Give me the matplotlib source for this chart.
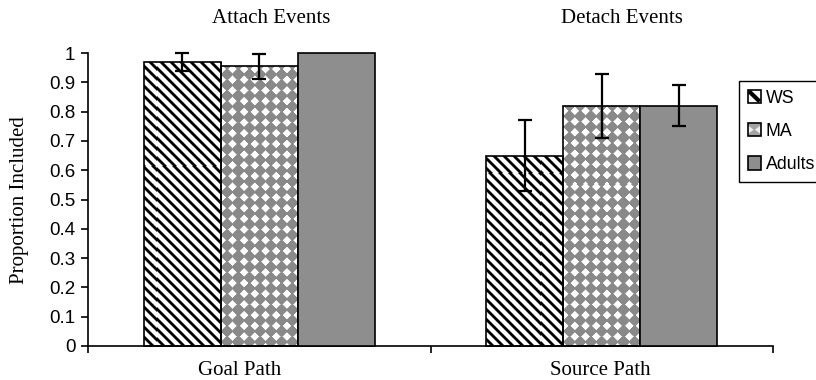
import numpy as np
import matplotlib
matplotlib.use("Agg")
import matplotlib.pyplot as plt
from matplotlib.patches import Rectangle, Polygon, Patch
from matplotlib.lines import Line2D
from matplotlib.legend_handler import HandlerBase

# ---- data -------------------------------------------------------------
categories = ["Goal Path", "Source Path"]
panel_titles = ["Attach Events", "Detach Events"]
groups = ["WS", "MA", "Adults"]

ws_values = [0.97, 0.65]
ws_errors = [0.03, 0.12]
ma_values = [0.955, 0.82]
ma_errors = [0.043, 0.11]
adult_values = [1.0, 0.82]
adult_errors = [0.0, 0.07]

y_ticks = [0, 0.1, 0.2, 0.3, 0.4, 0.5, 0.6, 0.7, 0.8, 0.9, 1.0]
y_tick_labels = ["0", "0.1", "0.2", "0.3", "0.4", "0.5", "0.6", "0.7", "0.8", "0.9", "1"]

# ---- style ------------------------------------------------------------
SANS = "Liberation Sans"
SERIF = "Liberation Serif"
GRAY = "#8e8e8e"
W, H, DPI = 816, 380, 100
AX_L, AX_B, AX_W, AX_H = 88, 34, 685, 293   # axes box in pixels

fig = plt.figure(figsize=(W / DPI, H / DPI), dpi=DPI)
ax = fig.add_axes([AX_L / W, AX_B / H, AX_W / W, AX_H / H])
xlim = (-0.5, 1.5)
ylim = (0.0, 1.0)

x = np.arange(len(categories))
bw = 0.225


def stripe_texture(rows, cols, period=10.0, ink=4.0):
    r, c = np.mgrid[0:rows, 0:cols] + 0.5
    d = np.mod(c - r, period)
    inside = np.where(d < ink, np.minimum(d, ink - d), -np.minimum(d - ink, period - d))
    cov = np.clip(inside + 0.5, 0, 1)
    v = 1.0 - cov
    return np.dstack([v, v, v])


def diamond_texture(rows, cols, period=10.7, radius=4.3, base=0.54):
    r, c = np.mgrid[0:rows, 0:cols] + 0.5
    u = np.mod(c, period) - period / 2
    w = np.mod(r, period) - period / 2
    cov = np.clip(radius - (np.abs(u) + np.abs(w)) + 0.5, 0, 1)
    v = base * (1 - cov) + cov
    return np.dstack([v, v, v])


stripes = stripe_texture(AX_H, AX_W)
diamonds = diamond_texture(AX_H, AX_W)


def textured_bars(xpos, values, texture):
    bars = ax.bar(xpos, values, bw, facecolor="none", edgecolor="black",
                  linewidth=1.2, zorder=3, clip_on=False)
    for b in bars:
        im = ax.imshow(texture, extent=(xlim[0], xlim[1], ylim[0], ylim[1]),
                       origin="upper", interpolation="nearest", aspect="auto", zorder=2)
        im.set_clip_path(b)
    return bars


textured_bars(x - bw, ws_values, stripes)
textured_bars(x, ma_values, diamonds)
ax.bar(x + bw, adult_values, bw, facecolor=GRAY, edgecolor="black",
       linewidth=1.2, zorder=3, clip_on=False)

for off, vals, errs in [(-bw, ws_values, ws_errors),
                        (0.0, ma_values, ma_errors),
                        (bw, adult_values, adult_errors)]:
    keep = [i for i, e in enumerate(errs) if e > 0]
    ax.errorbar(x[keep] + off, np.array(vals)[keep], yerr=np.array(errs)[keep],
                fmt="none", ecolor="black", elinewidth=1.6, capsize=4.8,
                capthick=1.6, zorder=4, clip_on=False)

ax.set_xlim(*xlim)
ax.set_ylim(*ylim)

# axes and ticks
for s in ["top", "right"]:
    ax.spines[s].set_visible(False)
for s in ["left", "bottom"]:
    ax.spines[s].set_linewidth(1.2)
    ax.spines[s].set_color("black")

# tick marks sit on the category boundaries; names are placed under each group
ax.set_xticks([-0.5, 0.5, 1.5])
ax.set_xticklabels([])
ax.tick_params(axis="x", which="major", length=5, width=1.2, direction="out")
for xi, name, dx in zip(x, categories, [-14.0, -0.7]):
    ax.annotate(name, xy=(xi, 0), xycoords=("data", "axes fraction"),
                xytext=(dx, -20.8), textcoords="offset points",
                ha="center", va="baseline", fontfamily=SERIF, fontsize=15,
                annotation_clip=False)

ax.set_yticks(y_ticks)
ax.set_yticklabels(y_tick_labels, fontfamily=SANS, fontsize=13.5)
ax.tick_params(axis="y", length=5, width=1.2, direction="out", pad=4)

fig.text(20 / W, 1 - 200 / H, "Proportion Included", rotation=90,
         ha="center", va="center", fontfamily=SERIF, fontsize=15)

for title, px in zip(panel_titles, [271.5, 621.5]):
    fig.text(px / W, 1 - 23 / H, title, ha="center", va="baseline",
             fontfamily=SERIF, fontsize=15)


# ---- legend -------------------------------------------------------------
class StripeKey(HandlerBase):
    def create_artists(self, legend, orig, xd, yd, w, h, fs, trans):
        x0, y0 = -xd, -yd
        sq = Rectangle((x0, y0), w, h, facecolor="white", edgecolor="black",
                       lw=1.2, transform=trans)
        ln = Line2D([x0 + 1, x0 + w - 1], [y0 + h - 1, y0 + 1], color="black",
                    lw=3, solid_capstyle="butt", transform=trans)
        return [sq, ln]


class DiamondKey(HandlerBase):
    def create_artists(self, legend, orig, xd, yd, w, h, fs, trans):
        x0, y0 = -xd, -yd
        sq = Rectangle((x0, y0), w, h, facecolor="#a4a4a4", edgecolor="none",
                       transform=trans)
        left = Polygon([(x0, y0 + 0.15 * h), (x0 + 0.45 * w, y0 + 0.5 * h),
                        (x0, y0 + 0.85 * h)], closed=True, facecolor="#f0f0f0",
                       edgecolor="none", transform=trans)
        right = Polygon([(x0 + w, y0 + 0.15 * h), (x0 + 0.55 * w, y0 + 0.5 * h),
                         (x0 + w, y0 + 0.85 * h)], closed=True, facecolor="#f0f0f0",
                        edgecolor="none", transform=trans)
        edge = Rectangle((x0, y0), w, h, facecolor="none", edgecolor="black",
                         lw=1.2, transform=trans)
        return [sq, left, right, edge]


class SolidKey(HandlerBase):
    def create_artists(self, legend, orig, xd, yd, w, h, fs, trans):
        return [Rectangle((-xd, -yd), w, h, facecolor=GRAY, edgecolor="black",
                          lw=1.2, transform=trans)]


h_ws, h_ma, h_ad = Patch(), Patch(), Patch()
leg = fig.legend([h_ws, h_ma, h_ad], groups, loc="upper left",
                 bbox_to_anchor=(739 / W, 1 - 81 / H), bbox_transform=fig.transFigure,
                 handler_map={h_ws: StripeKey(), h_ma: DiamondKey(), h_ad: SolidKey()},
                 frameon=True, fancybox=False, framealpha=1, edgecolor="black",
                 borderpad=0.48, labelspacing=0.92, handlelength=0.76, handleheight=0.76,
                 handletextpad=0.25, borderaxespad=0,
                 prop={"family": SANS, "size": 12.8})
leg.get_frame().set_linewidth(1.0)

fig.savefig("out.png", dpi=DPI)
